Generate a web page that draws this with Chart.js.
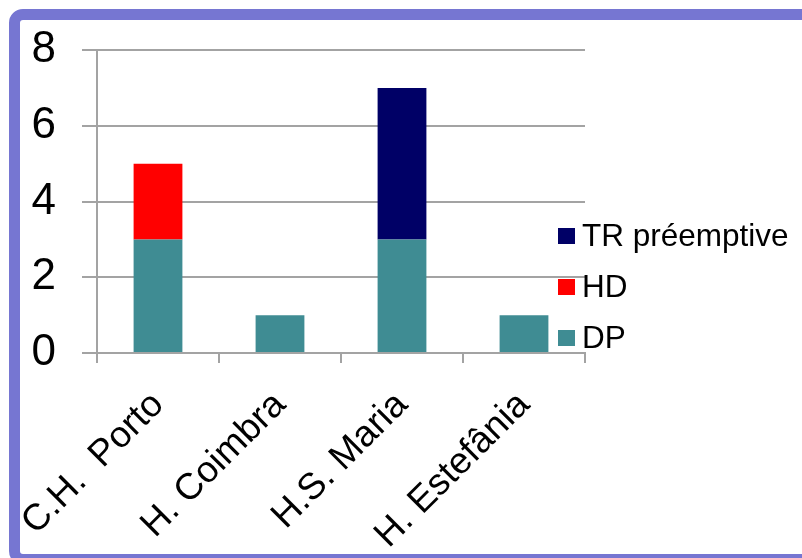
<!DOCTYPE html>
<html>
<head>
<meta charset="utf-8">
<script src="https://cdn.jsdelivr.net/npm/chart.js@4.4.1/dist/chart.umd.min.js"></script>
<style>
  html, body { margin: 0; padding: 0; background: #fff; overflow: hidden; }
  body { width: 802px; height: 558px; position: relative; }
  #marco {
    position: absolute; left: 9px; top: 9px;
    width: 1000px; height: 534px;
    border: 11px solid #7676D2; border-radius: 14px;
  }
  #lienzo { position: absolute; left: 0; top: 0; }
</style>
</head>
<body>
<div id="marco"></div>
<canvas id="lienzo" width="802" height="558"></canvas>
<script>
// Datos del gráfico
const hospitales = ['C.H.  Porto', 'H. Coimbra', 'H.S. Maria', 'H. Estefânia'];
const valoresDP = [3, 1, 3, 1];
const valoresHD = [2, 0, 0, 0];
const valoresTR = [0, 0, 4, 0];
const ticksY = [0, 2, 4, 6, 8];

const fuente = '"Liberation Sans", Arial, sans-serif';
const gris = '#A3A3A3';

// Leyenda dibujada a la derecha, en orden inverso
const leyenda = {
  id: 'leyenda',
  afterDraw(chart) {
    const ctx = chart.ctx;
    const sets = chart.data.datasets.slice().reverse();
    ctx.save();
    ctx.font = '31.5px ' + fuente;
    ctx.textBaseline = 'middle';
    ctx.textAlign = 'left';
    sets.forEach(function (ds, i) {
      const yc = 236 + i * 51;
      ctx.fillStyle = ds.backgroundColor;
      ctx.fillRect(558, yc - 8, 17, 16);
      ctx.fillStyle = '#000';
      ctx.fillText(ds.label, 582, yc + 1);
    });
    ctx.restore();
  }
};

const grafico = new Chart(document.getElementById('lienzo'), {
  type: 'bar',
  data: {
    labels: hospitales,
    datasets: [
      { label: 'DP', data: valoresDP, backgroundColor: '#3F8C93' },
      { label: 'HD', data: valoresHD, backgroundColor: '#FF0000' },
      { label: 'TR préemptive', data: valoresTR, backgroundColor: '#000066' }
    ]
  },
  options: {
    responsive: false,
    animation: false,
    layout: { padding: { left: 0, top: 50, right: 217, bottom: 0 } },
    datasets: { bar: { categoryPercentage: 1, barPercentage: 0.4 } },
    plugins: { legend: { display: false }, tooltip: { enabled: false } },
    scales: {
      x: {
        stacked: true,
        afterFit(scale) {
          scale.height = 205;
          scale.paddingLeft = 0;
          scale.paddingRight = 0;
        },
        grid: { drawOnChartArea: false, drawTicks: true, tickLength: 10, color: gris, lineWidth: 2, offset: true },
        border: { display: true, color: gris, width: 2 },
        ticks: {
          color: '#000', minRotation: 45, maxRotation: 45, autoSkip: false, padding: 36,
          font: { family: fuente, size: 37, lineHeight: 0 }
        }
      },
      y: {
        stacked: true,
        min: 0, max: 8,
        afterFit(scale) {
          scale.width = 97;
          scale.paddingTop = 0;
          scale.paddingBottom = 0;
        },
        afterBuildTicks(scale) { scale.ticks = ticksY.map(v => ({ value: v })); },
        grid: { color: gris, lineWidth: 2, drawTicks: true, tickLength: 15 },
        border: { display: true, color: gris, width: 2 },
        ticks: { color: '#000', padding: 26, font: { family: fuente, size: 44 } }
      }
    }
  },
  plugins: [leyenda]
});
</script>
</body>
</html>
